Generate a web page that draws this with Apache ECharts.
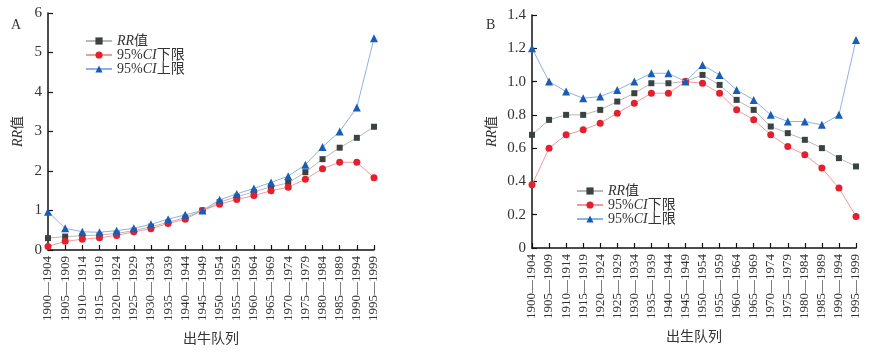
<!DOCTYPE html>
<html><head><meta charset="utf-8">
<script src="https://cdn.jsdelivr.net/npm/echarts@6/dist/echarts.min.js"></script>
<style>html,body{margin:0;padding:0;background:#fff}#c{width:890px;height:358px}</style>
</head><body><div id="c"></div>
<script>
const categories = ['1900—1904','1905—1909','1910—1914','1915—1919','1920—1924','1925—1929','1930—1934','1935—1939','1940—1944','1945—1949','1950—1954','1955—1959','1960—1964','1965—1969','1970—1974','1975—1979','1980—1984','1985—1989','1990—1994','1995—1999'];
const seriesNames = ['RR值','95%CI下限','95%CI上限'];
const xNameA = '出牛队列';
const xNameB = '出生队列';
const yName = 'RR值';
const yTicksA = [0,1,2,3,4,5,6];
const yTicksB = [0,0.2,0.4,0.6,0.8,1.0,1.2,1.4];

const rrA    = [0.30,0.34,0.36,0.38,0.42,0.49,0.59,0.70,0.82,1.00,1.21,1.35,1.47,1.60,1.70,1.97,2.30,2.59,2.84,3.12];
const lowerA = [0.09,0.22,0.27,0.31,0.37,0.46,0.54,0.67,0.78,1.00,1.16,1.28,1.38,1.50,1.59,1.79,2.06,2.22,2.22,1.83];
const upperA = [0.97,0.55,0.46,0.45,0.49,0.55,0.65,0.78,0.89,1.00,1.27,1.42,1.56,1.71,1.87,2.16,2.61,3.00,3.61,5.36];

const rrB    = [0.68,0.77,0.80,0.80,0.83,0.88,0.93,0.99,0.99,1.00,1.04,0.98,0.89,0.83,0.73,0.69,0.65,0.60,0.54,0.49];
const lowerB = [0.38,0.60,0.68,0.71,0.75,0.81,0.87,0.93,0.93,1.00,0.99,0.93,0.83,0.77,0.68,0.61,0.56,0.48,0.36,0.19];
const upperB = [1.20,1.00,0.94,0.90,0.91,0.95,1.00,1.05,1.05,1.00,1.10,1.04,0.95,0.89,0.80,0.76,0.76,0.74,0.80,1.25];

const serif = "'Liberation Serif','Noto Sans CJK SC',serif";
const styles = [
  {symbol:'rect', size:6, mc:'#3a4242', lc:'#b8b8b8'},
  {symbol:'circle', size:7, mc:'#e3202e', lc:'#f29a9a'},
  {symbol:'triangle', size:8, mc:'#1a5db4', lc:'#8db2e4'}
];
const rich = {i:{fontStyle:'italic', fontFamily:serif, fontSize:14, color:'#333', lineHeight:13}};
function legendFmt(n){ return n.replace(/(RR|CI)/,'{i|$1}'); }

function xAxis(idx, name){
  return {
    type:'category', gridIndex:idx, data:categories, boundaryGap:false,
    name:name, nameLocation:'middle', nameGap:82,
    nameTextStyle:{fontFamily:serif, fontSize:14, color:'#333'},
    axisLine:{lineStyle:{color:'#111', width:1.5}},
    axisTick:{inside:true, length:5, alignWithLabel:true, interval:0, lineStyle:{color:'#111', width:1.2}},
    axisLabel:{interval:0, rotate:90, margin:6, fontFamily:serif, fontSize:13, color:'#333'},
    splitLine:{show:false}
  };
}
function yAxis(idx, max, interval, fmt, gap){
  return {
    type:'value', gridIndex:idx, min:0, max:max, interval:interval,
    name:'{i|RR}值', nameLocation:'middle', nameGap:gap, nameRotate:90,
    nameTextStyle:{fontFamily:serif, fontSize:14, color:'#333', rich:rich},
    axisLine:{show:true, lineStyle:{color:'#111', width:1.5}},
    axisTick:{show:true, inside:true, length:5, lineStyle:{color:'#111', width:1.2}},
    axisLabel:{margin:6, fontFamily:serif, fontSize:15, color:'#333', formatter:fmt},
    splitLine:{show:false}
  };
}
function mk(idx, data){
  return data.map((d,k)=>({
    name:seriesNames[k], type:'line', xAxisIndex:idx, yAxisIndex:idx, data:d,
    symbol:styles[k].symbol, symbolSize:styles[k].size, showAllSymbol:true,
    itemStyle:{color:styles[k].mc}, lineStyle:{color:styles[k].lc, width:1},
    z: 2+k
  }));
}
const legendBase = {
  orient:'vertical', itemWidth:26, itemHeight:9, itemGap:0,
  data:seriesNames, formatter:legendFmt,
  textStyle:{fontFamily:serif, fontSize:14, color:'#333', lineHeight:13, rich:rich}
};
const chart = echarts.init(document.getElementById('c'), null, {renderer:'canvas'});
chart.setOption({
  animation:false,
  title:[
    {text:'A', left:6, top:13, textStyle:{fontFamily:serif, fontSize:14, fontWeight:'normal', color:'#333'}},
    {text:'B', left:481, top:13, textStyle:{fontFamily:serif, fontSize:14, fontWeight:'normal', color:'#333'}}
  ],
  legend:[
    Object.assign({left:80, top:29}, legendBase),
    Object.assign({left:571, top:179}, legendBase)
  ],
  grid:[
    {left:48, right:516, top:13, bottom:108},
    {left:532, right:34, top:15, bottom:110}
  ],
  xAxis:[xAxis(0, xNameA), xAxis(1, xNameB)],
  yAxis:[
    yAxis(0, 6, 1, v=>String(v), 23),
    yAxis(1, 1.4, 0.2, v=>v===0?'0':v.toFixed(1), 33)
  ],
  series:[].concat(mk(0,[rrA,lowerA,upperA]), mk(1,[rrB,lowerB,upperB]))
});
</script></body></html>
